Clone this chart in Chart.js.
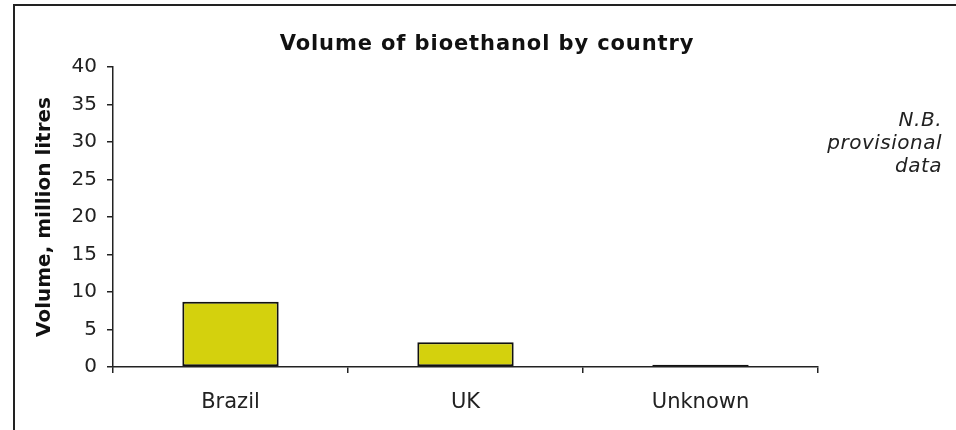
<!DOCTYPE html>
<html lang="en">
<head>
  <meta charset="UTF-8">
  <title>Volume of bioethanol by country</title>
  <script src="https://cdn.jsdelivr.net/npm/chart.js"></script>
  <style>
    html, body { margin: 0; padding: 0; background: #fff; }
    .wrap { position: relative; width: 956px; height: 430px; overflow: hidden; }
    .frame {
      position: absolute; left: 13px; top: 4px; width: 960px; height: 440px;
      border-top: 2px solid #222; border-left: 2px solid #222;
    }
    .title {
      position: absolute; left: 14px; width: 946px; top: 30px;
      font: bold 21px "DejaVu Sans", Verdana, sans-serif;
      letter-spacing: 0.9px;
      line-height: 26px; text-align: center; color: #111;
    }
    .note {
      position: absolute; right: 14px; top: 108px;
      font: italic 20px "DejaVu Sans", Verdana, sans-serif;
      letter-spacing: 0.5px;
      line-height: 23px; text-align: right; color: #222;
    }
    canvas { position: absolute; left: 0; top: 0; }
  </style>
</head>
<body>
  <div class="wrap">
    <div class="frame"></div>
    <canvas id="bioChart" width="956" height="430"></canvas>
    <div class="title">Volume of bioethanol by country</div>
    <div class="note">N.B.<br>provisional<br>data</div>
  </div>

  <script>
    const countries = ['Brazil', 'UK', 'Unknown'];
    const volumes = [8.7, 3.3, 0.3];
    const yTicks = [0, 5, 10, 15, 20, 25, 30, 35, 40];

    const font = '"DejaVu Sans", Verdana, sans-serif';

    const ctx = document.getElementById('bioChart').getContext('2d');
    new Chart(ctx, {
      type: 'bar',
      data: {
        labels: countries,
        datasets: [{
          data: volumes,
          backgroundColor: '#d4d10d',
          borderColor: '#111',
          borderWidth: 2,
          borderSkipped: false,
          categoryPercentage: 1,
          barPercentage: 0.41
        }]
      },
      options: {
        responsive: false,
        animation: false,
        layout: { padding: { left: 20, right: 138, top: 67, bottom: 0 } },
        plugins: {
          legend: { display: false },
          tooltip: { enabled: false },
          title: { display: false }
        },
        scales: {
          x: {
            offset: true,
            grid: {
              offset: true,
              drawOnChartArea: false,
              color: '#222',
              tickLength: 6,
              lineWidth: 1.5
            },
            border: { color: '#222', width: 1.5 },
            ticks: {
              color: '#222',
              padding: 17,
              font: { family: font, size: 21 }
            },
            afterFit: (scale) => { scale.height = 63; }
          },
          y: {
            min: 0,
            max: 40,
            afterBuildTicks: (scale) => {
              scale.ticks = yTicks.map(v => ({ value: v }));
            },
            grid: {
              drawOnChartArea: false,
              color: '#222',
              tickLength: 6,
              lineWidth: 1.5
            },
            border: { color: '#222', width: 1.5 },
            ticks: {
              color: '#222',
              padding: 10,
              font: { family: font, size: 20 }
            },
            title: {
              display: true,
              text: 'Volume, million litres',
              color: '#111',
              font: { family: font, size: 20, weight: 'bold', lineHeight: 1.2 },
              padding: { top: 13, bottom: 0 }
            },
            afterFit: (scale) => { scale.width = 93; }
          }
        }
      }
    });
  </script>
</body>
</html>
